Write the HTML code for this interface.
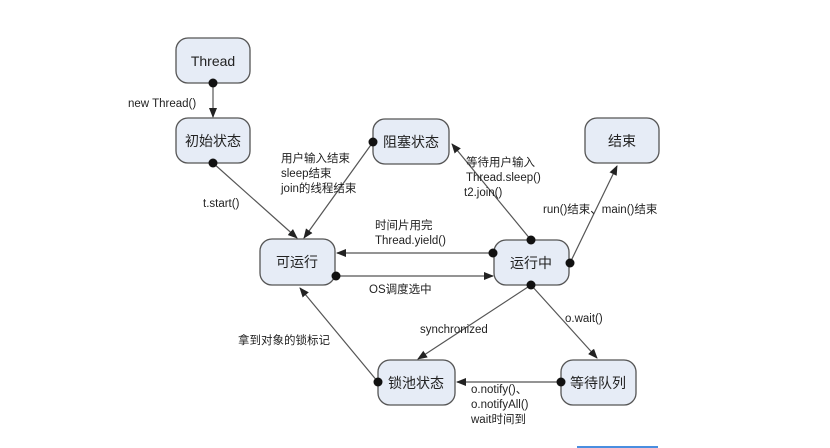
<!DOCTYPE html>
<html><head><meta charset="utf-8"><style>
body{margin:0;background:#fff}
svg{display:block}
text{font-family:"Liberation Sans","Noto Sans CJK SC",sans-serif;fill:#222}
.n{fill:#e6ecf6;stroke:#555;stroke-width:1.3}
.l{stroke:#555;stroke-width:1.2;fill:none}
.nt{font-size:14px;text-anchor:middle}
.lb{font-size:11.5px}
</style></head><body>
<svg width="830" height="448" viewBox="0 0 830 448">
<defs><marker id="a" markerWidth="10" markerHeight="10" refX="9" refY="5" orient="auto" markerUnits="userSpaceOnUse"><path d="M0,1 L10,5 L0,9z" fill="#222"/></marker></defs>
<g>
<rect class="n" x="176" y="38" width="74" height="45" rx="12"/><text class="nt" x="213" y="66">Thread</text>
<rect class="n" x="176" y="118" width="74" height="45" rx="12"/><text class="nt" x="213" y="146">初始状态</text>
<rect class="n" x="373" y="119" width="76" height="45" rx="12"/><text class="nt" x="411" y="147">阻塞状态</text>
<rect class="n" x="585" y="118" width="74" height="45" rx="12"/><text class="nt" x="622" y="146">结束</text>
<rect class="n" x="260" y="239" width="75" height="46" rx="12"/><text class="nt" x="297" y="267">可运行</text>
<rect class="n" x="494" y="240" width="75" height="45" rx="12"/><text class="nt" x="531" y="268">运行中</text>
<rect class="n" x="378" y="360" width="77" height="45" rx="12"/><text class="nt" x="416" y="388">锁池状态</text>
<rect class="n" x="561" y="360" width="75" height="45" rx="12"/><text class="nt" x="598" y="388">等待队列</text>
</g>
<g marker-end="url(#a)">
<line class="l" x1="213" y1="83" x2="213" y2="117"/>
<line class="l" x1="213" y1="163" x2="297" y2="238"/>
<line class="l" x1="373" y1="142" x2="304" y2="238"/>
<line class="l" x1="531" y1="240" x2="452" y2="144"/>
<line class="l" x1="570" y1="263" x2="617" y2="166"/>
<line class="l" x1="493" y1="253" x2="337" y2="253"/>
<line class="l" x1="336" y1="276" x2="493" y2="276"/>
<line class="l" x1="531" y1="285" x2="418" y2="359"/>
<line class="l" x1="531" y1="285" x2="597" y2="358"/>
<line class="l" x1="561" y1="382" x2="457" y2="382"/>
<line class="l" x1="378" y1="382" x2="300" y2="288"/>
</g>
<g fill="#111">
<circle cx="213" cy="83" r="4.5"/><circle cx="213" cy="163" r="4.5"/><circle cx="373" cy="142" r="4.5"/>
<circle cx="531" cy="240" r="4.5"/><circle cx="570" cy="263" r="4.5"/><circle cx="493" cy="253" r="4.5"/>
<circle cx="336" cy="276" r="4.5"/><circle cx="531" cy="285" r="4.5"/><circle cx="561" cy="382" r="4.5"/>
<circle cx="378" cy="382" r="4.5"/>
</g>
<g class="lb">
<text class="lb" x="128" y="107">new Thread()</text>
<text class="lb" x="203" y="207">t.start()</text>
<text class="lb" x="281" y="162">用户输入结束</text>
<text class="lb" x="281" y="177">sleep结束</text>
<text class="lb" x="281" y="192">join的线程结束</text>
<text class="lb" x="466" y="166">等待用户输入</text>
<text class="lb" x="466" y="181">Thread.sleep()</text>
<text class="lb" x="464" y="196">t2.join()</text>
<text class="lb" x="543" y="213">run()结束、main()结束</text>
<text class="lb" x="375" y="229">时间片用完</text>
<text class="lb" x="375" y="244">Thread.yield()</text>
<text class="lb" x="369" y="293">OS调度选中</text>
<text class="lb" x="420" y="333">synchronized</text>
<text class="lb" x="565" y="322">o.wait()</text>
<text class="lb" x="238" y="344">拿到对象的锁标记</text>
<text class="lb" x="471" y="393">o.notify()、</text>
<text class="lb" x="471" y="408">o.notifyAll()</text>
<text class="lb" x="471" y="423">wait时间到</text>
</g>
<rect x="577" y="446" width="81" height="2" fill="#4a8ee0"/>
</svg>
</body></html>
